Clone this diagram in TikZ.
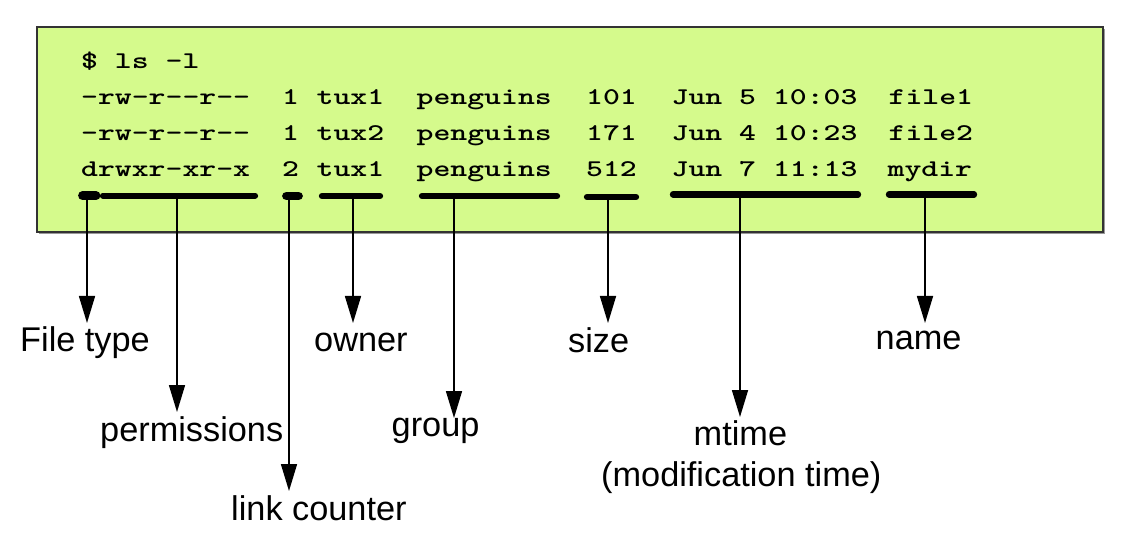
\documentclass[tikz,border=0pt]{standalone}
\usepackage{fontspec}
\usepackage{graphicx}
\setmainfont{Liberation Sans}
\usetikzlibrary{arrows.meta}
\definecolor{boxgreen}{RGB}{213,250,140}
\newcommand{\tw}[1]{\scalebox{1.34}[1]{#1}}
\tikzset{
  mono/.style={font=\ttfamily\bfseries\fontsize{24}{28}\selectfont, anchor=base west, inner sep=0pt},
  lbl/.style={font=\fontsize{34.3}{40}\selectfont, anchor=base west, inner sep=0pt},
  bar/.style={line width=6.3pt, line cap=round},
  blob/.style={line width=8.8pt, line cap=round},
  arr/.style={line width=1.6pt, -{Triangle[length=27pt,width=16pt]}},
  frame/.style={fill=boxgreen, draw=black!80, line width=1.6pt}
}
\begin{document}
\begin{tikzpicture}[x=1pt,y=-1pt]
\useasboundingbox (0,0) rectangle (1124,534);
% box with slight shadow
\fill[black!40] (39,29) rectangle (1105,234);
\draw[frame] (37,27) rectangle (1103,232);
% terminal text
\node[mono] (cmd) at (81,69) {\tw{\$ ls -l}};
\node[mono] (p1) at (81,105) {\tw{-rw-r--r--}};
\node[mono] (p2) at (81,140.5) {\tw{-rw-r--r--}};
\node[mono] (p3) at (81,176.5) {\tw{drwxr-xr-x}};
\node[mono] (l1) at (282,105) {\tw{1}};
\node[mono] (l2) at (282,140.5) {\tw{1}};
\node[mono] (l3) at (282,176.5) {\tw{2}};
\node[mono] (o1) at (316.5,105) {\tw{tux1}};
\node[mono] (o2) at (316.5,140.5) {\tw{tux2}};
\node[mono] (o3) at (316.5,176.5) {\tw{tux1}};
\node[mono] (g1) at (416.5,105) {\tw{penguins}};
\node[mono] (g2) at (416.5,140.5) {\tw{penguins}};
\node[mono] (g3) at (416.5,176.5) {\tw{penguins}};
\node[mono] (s1) at (586,105) {\tw{101}};
\node[mono] (s2) at (586,140.5) {\tw{171}};
\node[mono] (s3) at (586,176.5) {\tw{512}};
\node[mono] (t1) at (671.5,105) {\tw{Jun 5 10:03}};
\node[mono] (t2) at (671.5,140.5) {\tw{Jun 4 10:23}};
\node[mono] (t3) at (671.5,176.5) {\tw{Jun 7 11:13}};
\node[mono] (n1) at (888.5,105) {\tw{file1}};
\node[mono] (n2) at (888.5,140.5) {\tw{file2}};
\node[mono] (n3) at (887.5,176.5) {\tw{mydir}};
% underline bars
\draw[blob] (82.5,195.7) -- (96,195.7);
\draw[bar] (103,195.7) -- (255,195.7);
\draw[blob] (286.5,196) -- (298.5,196);
\draw[bar] (322,196) -- (380,196);
\draw[bar] (422,196) -- (557,196);
\draw[bar] (587,197) -- (636,197);
\draw[bar] (673,194.5) -- (858,194.5);
\draw[bar] (889,194.5) -- (974,194.5);
% arrow start and end points
\coordinate (aft) at (87,196);   \coordinate (bft) at (87,323);
\coordinate (ape) at (177,196);  \coordinate (bpe) at (177,412);
\coordinate (alc) at (289,196);  \coordinate (blc) at (289,491);
\coordinate (aow) at (353,196);  \coordinate (bow) at (353,323);
\coordinate (agr) at (454,196);  \coordinate (bgr) at (454,418);
\coordinate (asz) at (608,197);  \coordinate (bsz) at (608,323);
\coordinate (amt) at (740,195);  \coordinate (bmt) at (740,417);
\coordinate (anm) at (925,195);  \coordinate (bnm) at (925,323);
\draw[arr] (aft) -- (bft);
\draw[arr] (ape) -- (bpe);
\draw[arr] (alc) -- (blc);
\draw[arr] (aow) -- (bow);
\draw[arr] (agr) -- (bgr);
\draw[arr] (asz) -- (bsz);
\draw[arr] (amt) -- (bmt);
\draw[arr] (anm) -- (bnm);
% labels
\node[lbl] (lft) at (20,351.5) {File type};
\node[lbl] (lpe) at (100,441.5) {permissions};
\node[lbl] (llc) at (231,520) {link counter};
\node[lbl] (low) at (314,351.5) {owner};
\node[lbl] (lgr) at (391.5,436.5) {group};
\node[lbl] (lsz) at (568,352.5) {size};
\node[lbl] (lmt) at (693.5,445.5) {mtime};
\node[lbl] (lmt2) at (601,486.5) {(modification time)};
\node[lbl] (lnm) at (875.5,350) {name};
\end{tikzpicture}
\end{document}
